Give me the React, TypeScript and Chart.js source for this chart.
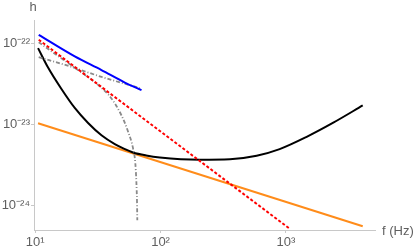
import React, { useEffect, useRef } from "react";
import { Chart, registerables } from "chart.js";

Chart.register(...registerables);

// ---- axis ticks ----
const xTickValues = [10, 100, 1000];
const xTickLabels = ["10¹", "10²", "10³"];
const yTickValues = [1e-24, 1e-23, 1e-22];
const yTickLabels = ["10⁻²⁴", "10⁻²³", "10⁻²²"];
const xRange = [9.795, 5129];
const yRange = [5.22e-25, 1.968e-22];
const xAxisTitle = "f (Hz)";
const yAxisTitle = "h";

// ---- series (f in Hz, h strain) ----
const orangeF = [10.55, 4094];
const orangeH = [1.043e-23, 5.57e-25];

const redF = [10.68, 1060];
const redH = [1.122e-22, 5.25e-25];

const blueF = [10.68, 20.7, 33.81, 51.89, 70.5];
const blueH = [1.289e-22, 6.98e-23, 4.73e-23, 3.32e-23, 2.67e-23];

const grayFlatF = [10.68, 18.88, 33.81, 68.37];
const grayFlatH = [6.83e-23, 5.27e-23, 3.9e-23, 2.84e-23];

const graySteepF = [10.68, 15.72, 24.88, 31.77, 40.64, 48.84, 55.13, 60.42, 62.92, 64.16, 64.92, 65.27];
const graySteepH = [1.044e-22, 6.83e-23, 4.14e-23, 3.11e-23, 2.11e-23, 1.30e-23, 8.2e-24, 5.07e-24, 3.36e-24, 1.96e-24, 1.11e-24, 6.6e-25];

const blackF = [10.55, 12.68, 16.22, 20.7, 26.44, 33.81, 43.18, 51.89, 60.42, 76.86, 98.7, 205.9, 357.4, 583.8, 890.6, 1463, 2385, 4094];
const blackH = [8.85e-23, 5.09e-23, 2.76e-23, 1.61e-23, 1.05e-23, 7.40e-24, 5.76e-24, 5.00e-24, 4.54e-24, 4.17e-24, 3.94e-24, 3.7e-24, 3.75e-24, 4.14e-24, 5.0e-24, 7.09e-24, 1.06e-23, 1.73e-23];

const pts = (f: number[], h: number[]) => f.map((v, i) => ({ x: v, y: h[i] }));

const axisColor = "#c8c8c8";
const labelColor = "#5f5f5f";
const fontFamily = "'Liberation Sans', Arial, Helvetica, sans-serif";

const axisTitlePlugin = {
  id: "axisTitles",
  afterDraw(chart: any) {
    const { ctx, chartArea } = chart;
    ctx.save();
    ctx.fillStyle = labelColor;
    ctx.font = `13px ${fontFamily}`;
    ctx.textBaseline = "middle";
    ctx.textAlign = "center";
    ctx.fillText(yAxisTitle, chartArea.left - 1, chartArea.top - 12.5);
    ctx.textAlign = "left";
    ctx.fillText(xAxisTitle, chartArea.right + 7, chartArea.bottom + 1);
    ctx.restore();
  },
};

export default function App() {
  const canvasRef = useRef<HTMLCanvasElement | null>(null);

  useEffect(() => {
    if (!canvasRef.current) return;
    const common = {
      pointRadius: 0,
      pointHoverRadius: 0,
      fill: false,
      showLine: true,
    };
    const chart = new Chart(canvasRef.current, {
      type: "line",
      data: {
        datasets: [
          {
            ...common,
            label: "blue",
            data: pts(blueF, blueH),
            borderColor: "#0000ff",
            borderWidth: 2,
            cubicInterpolationMode: "monotone",
          },
          {
            ...common,
            label: "red",
            data: pts(redF, redH),
            borderColor: "#ff0000",
            borderWidth: 2,
            borderDash: [3, 2],
          },
          {
            ...common,
            label: "grayFlat",
            data: pts(grayFlatF, grayFlatH),
            borderColor: "#8a8a8a",
            borderWidth: 1.8,
            borderDash: [4, 2, 1, 2],
            cubicInterpolationMode: "monotone",
          },
          {
            ...common,
            label: "graySteep",
            data: pts(graySteepF, graySteepH),
            borderColor: "#8a8a8a",
            borderWidth: 1.8,
            borderDash: [4, 2, 1, 2],
            cubicInterpolationMode: "monotone",
          },
          {
            ...common,
            label: "black",
            data: pts(blackF, blackH),
            borderColor: "#000000",
            borderWidth: 2,
            cubicInterpolationMode: "monotone",
          },
          {
            ...common,
            label: "orange",
            data: pts(orangeF, orangeH),
            borderColor: "#ff8c1a",
            borderWidth: 2,
          },
        ],
      },
      options: {
        animation: false,
        responsive: false,
        devicePixelRatio: 1,
        layout: { padding: { top: 20, right: 40, left: 0, bottom: 0 } },
        plugins: {
          legend: { display: false },
          tooltip: { enabled: false },
        },
        scales: {
          x: {
            type: "logarithmic",
            min: xRange[0],
            max: xRange[1],
            afterBuildTicks: (s: any) => {
              s.ticks = xTickValues.map((v) => ({ value: v }));
            },
            afterFit: (s: any) => {
              s.height = 21;
            },
            grid: {
              drawOnChartArea: false,
              drawTicks: true,
              tickLength: 3,
              color: axisColor,
            },
            border: { display: true, color: axisColor, width: 1 },
            ticks: {
              autoSkip: false,
              maxRotation: 0,
              padding: 2,
              color: labelColor,
              font: { size: 13, family: fontFamily },
              callback: (v: any) => xTickLabels[xTickValues.indexOf(Number(v))] ?? "",
            },
          },
          y: {
            type: "logarithmic",
            min: yRange[0],
            max: yRange[1],
            afterBuildTicks: (s: any) => {
              s.ticks = yTickValues.map((v) => ({ value: v }));
            },
            afterFit: (s: any) => {
              s.width = 34;
            },
            grid: {
              drawOnChartArea: false,
              drawTicks: true,
              tickLength: 3,
              color: axisColor,
            },
            border: { display: true, color: axisColor, width: 1 },
            ticks: {
              autoSkip: false,
              padding: 1,
              color: labelColor,
              font: { size: 13, family: fontFamily },
              callback: (v: any) => yTickLabels[yTickValues.indexOf(Number(v))] ?? "",
            },
          },
        },
      },
      plugins: [axisTitlePlugin],
    } as any);
    return () => chart.destroy();
  }, []);

  return (
    <div style={{ position: "absolute", left: 0, top: 0, width: 415, height: 251, background: "#fff" }}>
      <canvas ref={canvasRef} width={415} height={251} style={{ display: "block", width: 415, height: 251 }} />
    </div>
  );
}
